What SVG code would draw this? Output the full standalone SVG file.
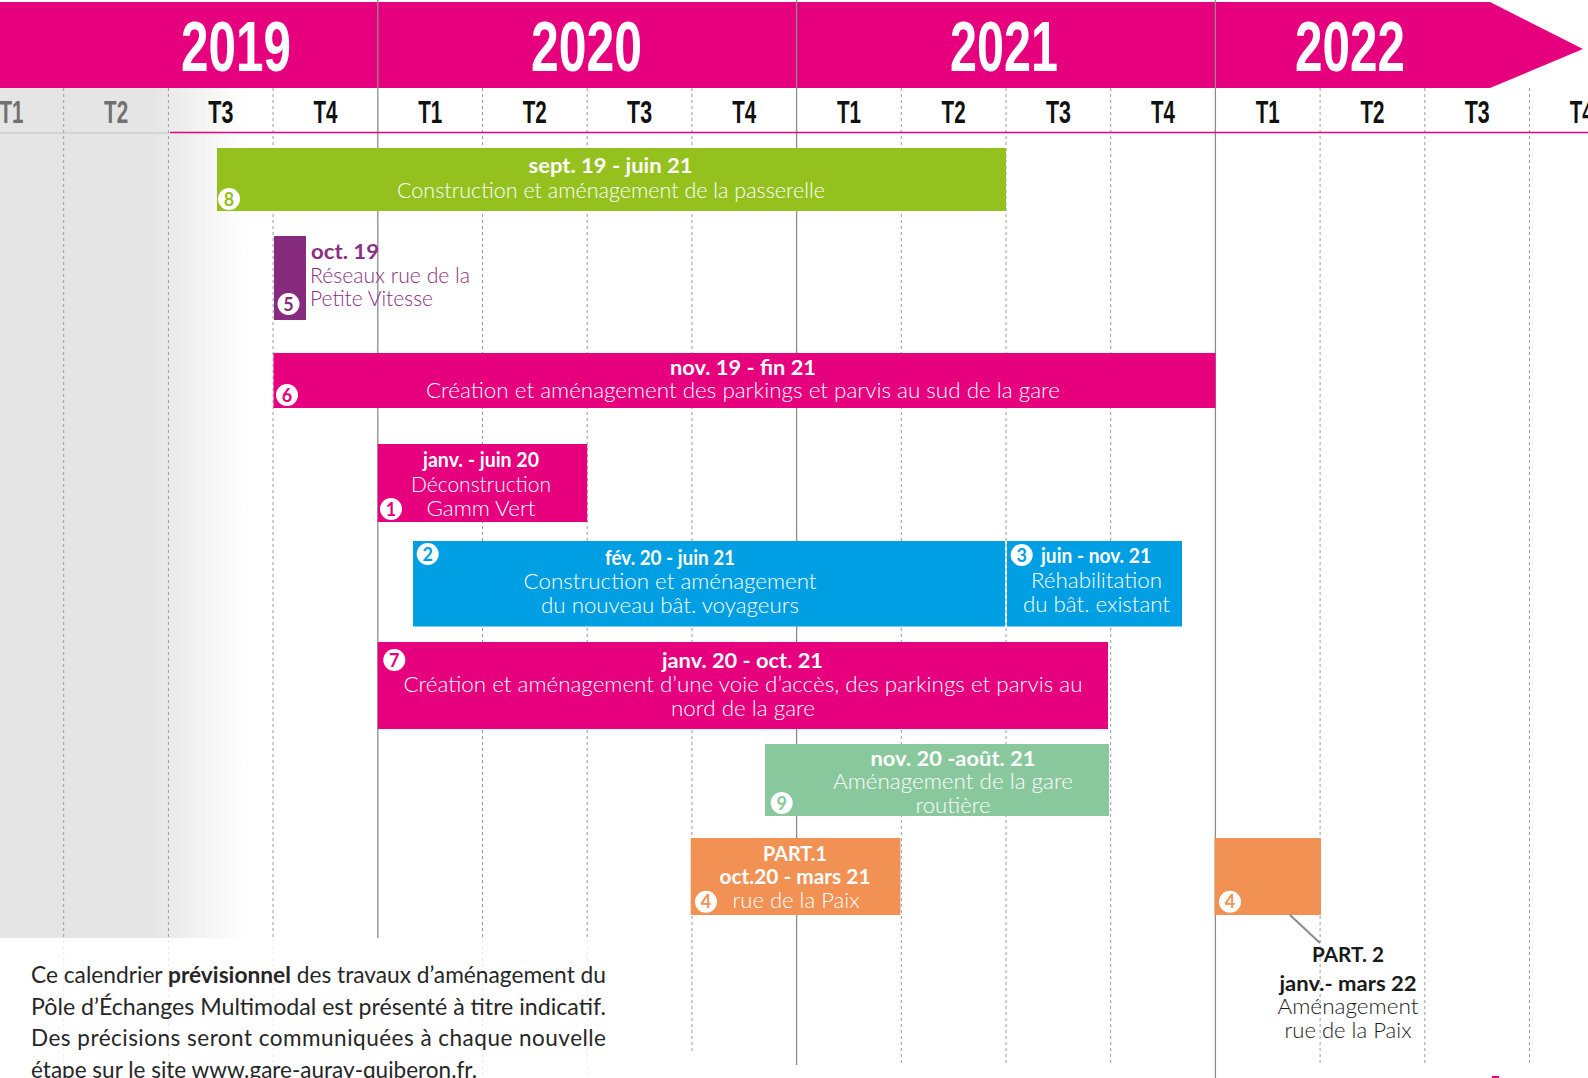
<svg xmlns="http://www.w3.org/2000/svg" width="1588" height="1078" viewBox="0 0 1588 1078">
<defs>
<style>
.yr{font-family:"Liberation Sans",Arial,sans-serif;font-weight:700;font-size:70px;fill:#fff}
.q{font-family:"Liberation Sans",Arial,sans-serif;font-weight:700;font-size:32px;fill:#111;text-anchor:middle}
.qg{fill:#707070}
.b{font-family:Lato,"Open Sans",sans-serif;font-weight:700;font-size:21px;fill:#fff;text-anchor:middle}
.l{font-family:Lato,"Open Sans",sans-serif;font-weight:300;font-size:21px;fill:#fff;text-anchor:middle}
.st{text-anchor:start}
.pu{fill:#8B2E82}
.dk{fill:#1a1a1a}
.gd{stroke:#9a9a9a;stroke-width:1;stroke-dasharray:3 3;fill:none}
.gs{stroke:#8c8c8c;stroke-width:1.3;fill:none}
.bd{fill:#fff}
.bn{font-family:Lato,"Open Sans",sans-serif;font-weight:700;font-size:18px;text-anchor:middle}
.ft{font-family:Lato,"Open Sans",sans-serif;font-weight:400;font-size:22.5px;fill:#262626}
</style>
<linearGradient id="fade" x1="150" y1="0" x2="245" y2="0" gradientUnits="userSpaceOnUse">
<stop offset="0" stop-color="#e5e5e5"/>
<stop offset="1" stop-color="#ffffff"/>
</linearGradient>
</defs>
<rect x="0" y="0" width="1588" height="1078" fill="#fff"/>
<rect x="0" y="88" width="245" height="850" fill="url(#fade)"/>

<g id="header">
<polygon points="0,2 1490,2 1583,49 1490,88 0,88" fill="#E6007E"/>
<text class="yr" x="181" y="71" textLength="110" lengthAdjust="spacingAndGlyphs">2019</text>
<text class="yr" x="531" y="71" textLength="111" lengthAdjust="spacingAndGlyphs">2020</text>
<text class="yr" x="950" y="71" textLength="108" lengthAdjust="spacingAndGlyphs">2021</text>
<text class="yr" x="1295" y="71" textLength="110" lengthAdjust="spacingAndGlyphs">2022</text>
</g>

<g id="grid">
<line class="gd" x1="63.7" y1="88" x2="63.7" y2="1078"/>
<line class="gd" x1="168.4" y1="88" x2="168.4" y2="1078"/>
<line class="gd" x1="273.1" y1="88" x2="273.1" y2="1078"/>
<line class="gd" x1="482.5" y1="88" x2="482.5" y2="1078"/>
<line class="gd" x1="587.2" y1="88" x2="587.2" y2="1078"/>
<line class="gd" x1="691.9" y1="88" x2="691.9" y2="1052"/>
<line class="gd" x1="901.3" y1="88" x2="901.3" y2="1063"/>
<line class="gd" x1="1006" y1="88" x2="1006" y2="1063"/>
<line class="gd" x1="1110.7" y1="88" x2="1110.7" y2="1063"/>
<line class="gd" x1="1320.1" y1="88" x2="1320.1" y2="1065"/>
<line class="gd" x1="1424.8" y1="88" x2="1424.8" y2="1065"/>
<line class="gd" x1="1529.5" y1="88" x2="1529.5" y2="1065"/>
<line class="gs" x1="377.8" y1="0" x2="377.8" y2="938"/>
<line class="gs" x1="796.6" y1="0" x2="796.6" y2="1065"/>
<line class="gs" x1="1215.4" y1="0" x2="1215.4" y2="1078"/>
<line x1="0" y1="133" x2="170" y2="133" stroke="#c4c4c4" stroke-width="1.2"/>
<line x1="170" y1="132.5" x2="1588" y2="132.5" stroke="#E6007E" stroke-width="1.5"/>
</g>

<g id="quarters">
<text class="q qg" x="11.4" y="123" textLength="24" lengthAdjust="spacingAndGlyphs">T1</text>
<text class="q qg" x="116.1" y="123" textLength="24" lengthAdjust="spacingAndGlyphs">T2</text>
<text class="q" x="220.8" y="123" textLength="25" lengthAdjust="spacingAndGlyphs">T3</text>
<text class="q" x="325.4" y="123" textLength="24" lengthAdjust="spacingAndGlyphs">T4</text>
<text class="q" x="430.2" y="123" textLength="24" lengthAdjust="spacingAndGlyphs">T1</text>
<text class="q" x="534.8" y="123" textLength="24" lengthAdjust="spacingAndGlyphs">T2</text>
<text class="q" x="639.6" y="123" textLength="25" lengthAdjust="spacingAndGlyphs">T3</text>
<text class="q" x="744.2" y="123" textLength="24" lengthAdjust="spacingAndGlyphs">T4</text>
<text class="q" x="849" y="123" textLength="24" lengthAdjust="spacingAndGlyphs">T1</text>
<text class="q" x="953.6" y="123" textLength="24" lengthAdjust="spacingAndGlyphs">T2</text>
<text class="q" x="1058.4" y="123" textLength="25" lengthAdjust="spacingAndGlyphs">T3</text>
<text class="q" x="1163" y="123" textLength="24" lengthAdjust="spacingAndGlyphs">T4</text>
<text class="q" x="1267.8" y="123" textLength="24" lengthAdjust="spacingAndGlyphs">T1</text>
<text class="q" x="1372.4" y="123" textLength="24" lengthAdjust="spacingAndGlyphs">T2</text>
<text class="q" x="1477.2" y="123" textLength="25" lengthAdjust="spacingAndGlyphs">T3</text>
<text class="q" x="1581.8" y="123" textLength="24" lengthAdjust="spacingAndGlyphs">T4</text>
</g>

<g id="task8">
<rect x="217" y="148" width="789" height="63" fill="#95C11F"/>
<text class="b" x="610.5" y="173" textLength="164" lengthAdjust="spacingAndGlyphs">sept. 19 - juin 21</text>
<text class="l" x="611" y="198" textLength="428" lengthAdjust="spacingAndGlyphs">Construction et aménagement de la passerelle</text>
<circle class="bd" cx="229" cy="199" r="11"/>
<text class="bn" x="229" y="205.5" fill="#95C11F">8</text>
</g>

<g id="task5">
<rect x="274" y="236" width="32" height="84" fill="#872B7E"/>
<text class="b st pu" x="311" y="259" textLength="68" lengthAdjust="spacingAndGlyphs">oct. 19</text>
<text class="l st pu" x="310" y="283" textLength="160" lengthAdjust="spacingAndGlyphs">Réseaux rue de la</text>
<text class="l st pu" x="310" y="306" textLength="123" lengthAdjust="spacingAndGlyphs">Petite Vitesse</text>
<circle class="bd" cx="288.5" cy="304" r="11"/>
<text class="bn" x="288.5" y="310.5" fill="#872B7E">5</text>
</g>

<g id="task6">
<rect x="273.5" y="353" width="942" height="55" fill="#E6007E"/>
<text class="b" x="743" y="375" textLength="146" lengthAdjust="spacingAndGlyphs">nov. 19 - fin 21</text>
<text class="l" x="743" y="398" textLength="634" lengthAdjust="spacingAndGlyphs">Création et aménagement des parkings et parvis au sud de la gare</text>
<circle class="bd" cx="287" cy="395" r="11"/>
<text class="bn" x="287" y="401.5" fill="#E6007E">6</text>
</g>

<g id="task1">
<rect x="377.8" y="444" width="209.4" height="78" fill="#E6007E"/>
<text class="b" x="481" y="467" textLength="116" lengthAdjust="spacingAndGlyphs">janv. - juin 20</text>
<text class="l" x="481" y="492" textLength="140" lengthAdjust="spacingAndGlyphs">Déconstruction</text>
<text class="l" x="481" y="516" textLength="109" lengthAdjust="spacingAndGlyphs">Gamm Vert</text>
<circle class="bd" cx="391" cy="509" r="11"/>
<text class="bn" x="391" y="515.5" fill="#E6007E">1</text>
</g>

<g id="task2">
<rect x="413" y="541" width="592" height="85.5" fill="#009FE3"/>
<text class="b" x="670" y="565" textLength="130" lengthAdjust="spacingAndGlyphs">fév. 20 - juin 21</text>
<text class="l" x="670" y="589" textLength="293" lengthAdjust="spacingAndGlyphs">Construction et aménagement</text>
<text class="l" x="670" y="613" textLength="258" lengthAdjust="spacingAndGlyphs">du nouveau bât. voyageurs</text>
<circle class="bd" cx="427.7" cy="554" r="11"/>
<text class="bn" x="427.7" y="560.5" fill="#009FE3">2</text>
</g>

<g id="task3">
<rect x="1007" y="541" width="175" height="85.5" fill="#009FE3"/>
<text class="b st" x="1041" y="563" textLength="110" lengthAdjust="spacingAndGlyphs">juin - nov. 21</text>
<text class="l" x="1096.5" y="588" textLength="131" lengthAdjust="spacingAndGlyphs">Réhabilitation</text>
<text class="l" x="1096.5" y="611.5" textLength="147" lengthAdjust="spacingAndGlyphs">du bât. existant</text>
<circle class="bd" cx="1021.7" cy="555" r="11"/>
<text class="bn" x="1021.7" y="561.5" fill="#009FE3">3</text>
</g>

<g id="task7">
<rect x="377.8" y="642" width="730.2" height="87" fill="#E6007E"/>
<text class="b" x="742.5" y="668" textLength="161" lengthAdjust="spacingAndGlyphs">janv. 20 - oct. 21</text>
<text class="l" x="743" y="691.5" textLength="679" lengthAdjust="spacingAndGlyphs">Création et aménagement d’une voie d’accès, des parkings et parvis au</text>
<text class="l" x="743" y="716" textLength="144" lengthAdjust="spacingAndGlyphs">nord de la gare</text>
<circle class="bd" cx="394.3" cy="660" r="11"/>
<text class="bn" x="394.3" y="666.5" fill="#E6007E">7</text>
</g>

<g id="task9">
<rect x="765" y="744" width="344" height="72" fill="#88C89C"/>
<text class="b" x="953" y="766" textLength="165" lengthAdjust="spacingAndGlyphs">nov. 20 -août. 21</text>
<text class="l" x="953" y="789" textLength="240" lengthAdjust="spacingAndGlyphs">Aménagement de la gare</text>
<text class="l" x="953" y="813" textLength="75" lengthAdjust="spacingAndGlyphs">routière</text>
<circle class="bd" cx="781.7" cy="803" r="11"/>
<text class="bn" x="781.7" y="809.5" fill="#88C89C">9</text>
</g>

<g id="task4a">
<rect x="690.7" y="838" width="209.7" height="77" fill="#F29154"/>
<text class="b" x="795" y="860.5" textLength="64" lengthAdjust="spacingAndGlyphs">PART.1</text>
<text class="b" x="795" y="884" textLength="151" lengthAdjust="spacingAndGlyphs">oct.20 - mars 21</text>
<text class="l" x="796" y="908" textLength="127" lengthAdjust="spacingAndGlyphs">rue de la Paix</text>
<circle class="bd" cx="706" cy="901.7" r="11"/>
<text class="bn" x="706" y="908.2" fill="#F29154">4</text>
</g>

<g id="task4b">
<rect x="1214.5" y="838" width="106.5" height="77" fill="#F29154"/>
<circle class="bd" cx="1230" cy="901.7" r="11"/>
<text class="bn" x="1230" y="908.2" fill="#F29154">4</text>
</g>

<g id="connectors">
<line x1="1290" y1="915" x2="1320" y2="943" stroke="#8a8a8a" stroke-width="2"/>
</g>

<g id="task4b-label">
<text class="b dk" x="1348" y="961.5" textLength="72" lengthAdjust="spacingAndGlyphs">PART. 2</text>
<text class="b dk" x="1348" y="990.5" textLength="137" lengthAdjust="spacingAndGlyphs">janv.- mars 22</text>
<text class="l dk" x="1348" y="1014" textLength="141" lengthAdjust="spacingAndGlyphs">Aménagement</text>
<text class="l dk" x="1348" y="1038" textLength="127" lengthAdjust="spacingAndGlyphs">rue de la Paix</text>
</g>

<rect x="1492" y="1076" width="7" height="2" fill="#E6007E"/>

<g id="footer">
<rect x="0" y="938" width="650" height="140" fill="#fff" opacity="0.8"/>
<text class="ft" x="31" y="983" textLength="575" lengthAdjust="spacingAndGlyphs">Ce calendrier <tspan font-weight="700">prévisionnel</tspan> des travaux d’aménagement du</text>
<text class="ft" x="31" y="1014.5" textLength="575" lengthAdjust="spacingAndGlyphs">Pôle d’Échanges Multimodal est présenté à titre indicatif.</text>
<text class="ft" x="31" y="1046" textLength="575" lengthAdjust="spacing">Des précisions seront communiquées à chaque nouvelle</text>
<text class="ft" x="31" y="1077.5" textLength="446" lengthAdjust="spacingAndGlyphs">étape sur le site www.gare-auray-quiberon.fr.</text>
</g>
</svg>
